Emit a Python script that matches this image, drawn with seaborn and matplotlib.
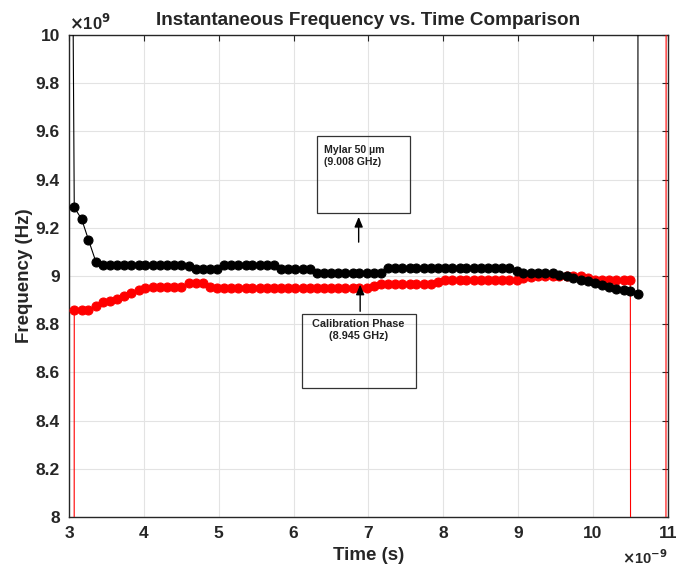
import matplotlib
matplotlib.use("Agg")
import matplotlib.pyplot as plt
import seaborn as sns
import pandas as pd

# ---- data (time in ns, frequency in GHz) ----
times = [3.07, 3.17, 3.26, 3.36, 3.45, 3.55, 3.64, 3.74, 3.83, 3.93,
         4.02, 4.12, 4.21, 4.31, 4.40, 4.50, 4.60, 4.69, 4.79, 4.88,
         4.98, 5.07, 5.17, 5.26, 5.36, 5.45, 5.55, 5.64, 5.74, 5.83,
         5.93, 6.02, 6.12, 6.22, 6.31, 6.41, 6.50, 6.60, 6.69, 6.79,
         6.88, 6.98, 7.07, 7.17, 7.26, 7.36, 7.45, 7.55, 7.64, 7.74,
         7.84, 7.93, 8.03, 8.12, 8.22, 8.31, 8.41, 8.50, 8.60, 8.69,
         8.79, 8.88, 8.98, 9.07, 9.17, 9.26, 9.36, 9.46, 9.55, 9.65,
         9.74, 9.84, 9.93, 10.03, 10.12, 10.22, 10.31, 10.41, 10.50, 10.60]

mylar_freq = [9.285, 9.235, 9.150, 9.058, 9.045, 9.045, 9.045, 9.045, 9.045, 9.045,
              9.045, 9.045, 9.045, 9.045, 9.045, 9.045, 9.042, 9.030, 9.030, 9.030,
              9.030, 9.045, 9.045, 9.045, 9.045, 9.045, 9.045, 9.045, 9.045, 9.030,
              9.030, 9.030, 9.030, 9.030, 9.012, 9.012, 9.012, 9.012, 9.012, 9.012,
              9.012, 9.012, 9.012, 9.012, 9.032, 9.032, 9.032, 9.032, 9.032, 9.032,
              9.032, 9.032, 9.032, 9.032, 9.032, 9.032, 9.032, 9.032, 9.032, 9.032,
              9.032, 9.032, 9.022, 9.013, 9.013, 9.013, 9.013, 9.013, 9.005, 8.998,
              8.992, 8.985, 8.978, 8.970, 8.962, 8.955, 8.947, 8.942, 8.937, 8.925]

calib_freq = [8.858, 8.857, 8.857, 8.877, 8.892, 8.898, 8.905, 8.918, 8.930, 8.942,
              8.950, 8.955, 8.953, 8.953, 8.953, 8.955, 8.970, 8.972, 8.970, 8.953,
              8.952, 8.952, 8.952, 8.952, 8.952, 8.952, 8.952, 8.952, 8.952, 8.952,
              8.952, 8.952, 8.952, 8.952, 8.952, 8.952, 8.952, 8.952, 8.952, 8.952,
              8.952, 8.952, 8.960, 8.966, 8.966, 8.966, 8.966, 8.966, 8.966, 8.966,
              8.966, 8.975, 8.982, 8.982, 8.982, 8.982, 8.982, 8.982, 8.982, 8.982,
              8.982, 8.982, 8.982, 8.990, 8.997, 9.000, 9.000, 9.000, 9.000, 9.000,
              9.000, 9.000, 8.990, 8.985, 8.985, 8.985, 8.985, 8.985, 8.985]

# off-scale samples at the window edges (instantaneous frequency blows up)
mylar_edge_start_t = [3.040, 3.046]
mylar_edge_start_f = [12.0, 10.5]
mylar_edge_end_t = [10.605]
mylar_edge_end_f = [12.0]
calib_edge_start_t = [3.068]
calib_edge_start_f = [7.0]
calib_edge_end_t = [10.505, 10.975, 10.980]
calib_edge_end_f = [7.0, 7.0, 12.0]

x_ticks = [3, 4, 5, 6, 7, 8, 9, 10, 11]
y_ticks = [8, 8.2, 8.4, 8.6, 8.8, 9, 9.2, 9.4, 9.6, 9.8, 10]
y_tick_labels = ["8", "8.2", "8.4", "8.6", "8.8", "9", "9.2", "9.4", "9.6", "9.8", "10"]

mylar_df = pd.DataFrame({
    "t": mylar_edge_start_t + times + mylar_edge_end_t,
    "f": mylar_edge_start_f + mylar_freq + mylar_edge_end_f,
})
calib_df = pd.DataFrame({
    "t": calib_edge_start_t + times[:len(calib_freq)] + calib_edge_end_t,
    "f": calib_edge_start_f + calib_freq + calib_edge_end_f,
})

sns.set_style("whitegrid")
plt.rcParams["font.family"] = ["Liberation Sans", "DejaVu Sans"]
plt.rcParams["font.weight"] = "bold"

fig = plt.figure(figsize=(6.8, 5.7), dpi=100)
ax = fig.add_axes([0.1015, 0.093, 0.8805, 0.8456])

sns.lineplot(data=calib_df, x="t", y="f", ax=ax, sort=False, estimator=None,
             color="#ff0000", linewidth=0.8, marker="o", markersize=6.5,
             markeredgecolor="#ff0000", markerfacecolor="#ff0000", zorder=3)
sns.lineplot(data=mylar_df, x="t", y="f", ax=ax, sort=False, estimator=None,
             color="black", linewidth=0.8, marker="o", markersize=6.5,
             markeredgecolor="black", markerfacecolor="black", zorder=4)

ax.set_xlim(3, 11)
ax.set_ylim(8, 10)
ax.set_xticks(x_ticks)
ax.set_xticklabels([str(v) for v in x_ticks])
ax.set_yticks(y_ticks)
ax.set_yticklabels(y_tick_labels)

ax.grid(True, color="#e3e3e3", linewidth=0.8)
for s in ax.spines.values():
    s.set_visible(True)
    s.set_color("#262626")
    s.set_linewidth(1.0)
ax.tick_params(axis="both", which="both", direction="in", length=4,
               width=0.8, color="#262626", top=True, right=True,
               labelsize=12.5, labelcolor="#262626", pad=6.5)
for lab in ax.get_xticklabels() + ax.get_yticklabels():
    lab.set_fontweight("bold")

ax.set_title("Instantaneous Frequency vs. Time Comparison", fontsize=13.6,
             fontweight="bold", pad=7)
ax.set_xlabel("Time (s)", fontsize=13.5, fontweight="bold", labelpad=4)
ax.set_ylabel("Frequency (Hz)", fontsize=13.5, fontweight="bold", labelpad=2)

ax.text(0.0, 1.004, r"$\times$10$^{9}$", transform=ax.transAxes, ha="left",
        va="bottom", fontsize=12, fontweight="bold", color="#262626")
ax.text(1.0, -0.064, r"$\times$10$^{-9}$", transform=ax.transAxes, ha="right",
        va="top", fontsize=10.5, fontweight="bold", color="#262626")

# annotation boxes
ax.add_patch(plt.Rectangle((6.31, 9.261), 1.24, 0.32, fill=False,
                           ec="#333333", lw=0.9, zorder=6))
ax.text(6.41, 9.545, "Mylar 50 \u00b5m\n(9.008 GHz)", ha="left", va="top",
        fontsize=7.6, fontweight="bold", color="#222222", zorder=6,
        linespacing=1.25)
ax.annotate("", xy=(6.87, 9.257), xytext=(6.87, 9.129),
            arrowprops=dict(arrowstyle="-|>,head_length=0.6,head_width=0.25",
                            color="black", lw=1.0), zorder=6)

ax.add_patch(plt.Rectangle((6.11, 8.535), 1.52, 0.307, fill=False,
                           ec="#333333", lw=0.9, zorder=6))
ax.text(6.87, 8.82, "Calibration Phase\n(8.945 GHz)", ha="center", va="top",
        fontsize=7.8, fontweight="bold", color="#222222", zorder=6,
        linespacing=1.2)
ax.annotate("", xy=(6.89, 8.976), xytext=(6.89, 8.842),
            arrowprops=dict(arrowstyle="-|>,head_length=0.6,head_width=0.25",
                            color="black", lw=1.0), zorder=6)

fig.savefig("out.png", dpi=100)
